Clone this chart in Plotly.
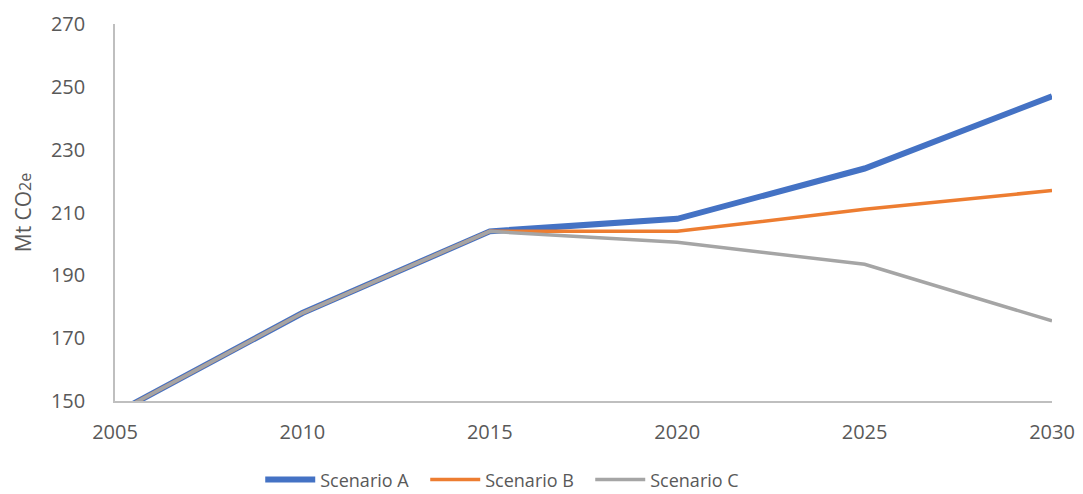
import plotly.graph_objects as go

# --- Data ---
years = [2005, 2010, 2015, 2020, 2025, 2030]
scenario_a = [146, 178, 204, 208, 224, 247]
scenario_b = [146, 178, 204, 204, 211, 217]
scenario_c = [146, 178, 204, 200.5, 193.5, 175.5]

x_ticks = [2005, 2010, 2015, 2020, 2025, 2030]
y_ticks = [150, 170, 190, 210, 230, 250, 270]

font_family = "Open Sans, Liberation Sans, sans-serif"
tick_color = "#595959"

fig = go.Figure()
fig.add_trace(go.Scatter(x=years, y=scenario_a, name="Scenario A", mode="lines",
                         line=dict(color="#4472C4", width=6)))
fig.add_trace(go.Scatter(x=years, y=scenario_b, name="Scenario B", mode="lines",
                         line=dict(color="#ED7D31", width=3.5)))
fig.add_trace(go.Scatter(x=years, y=scenario_c, name="Scenario C", mode="lines",
                         line=dict(color="#A5A5A5", width=3.5)))

# the page body adds an 8px offset, so margins are shifted to compensate
fig.update_layout(
    width=1083, height=494,
    paper_bgcolor="white", plot_bgcolor="white",
    margin=dict(l=107, r=39, t=16, b=101),
    font=dict(family=font_family, color=tick_color, size=19),
    legend=dict(orientation="h", x=0.155, xanchor="left",
                yref="container", y=0.045, yanchor="middle",
                font=dict(size=18, color=tick_color), itemwidth=50,
                entrywidth=100, entrywidthmode="pixels",
                traceorder="normal"),
    xaxis=dict(range=[2005, 2030], tickvals=x_ticks, showgrid=False, zeroline=False,
               showline=True, linecolor="#BFBFBF", linewidth=1.5, automargin=False,
               ticks="", ticklabelstandoff=12, tickfont=dict(size=20, color=tick_color)),
    yaxis=dict(range=[150, 270], tickvals=y_ticks, showgrid=False, zeroline=False,
               showline=True, linecolor="#BFBFBF", linewidth=1.5, automargin=False,
               ticks="", ticklabelstandoff=24, tickfont=dict(size=20, color=tick_color),
               title=dict(text="Mt CO<span style='font-size:16px'>2e</span>",
                          font=dict(size=21, color=tick_color), standoff=14)),
)

fig.write_html("out.html")
